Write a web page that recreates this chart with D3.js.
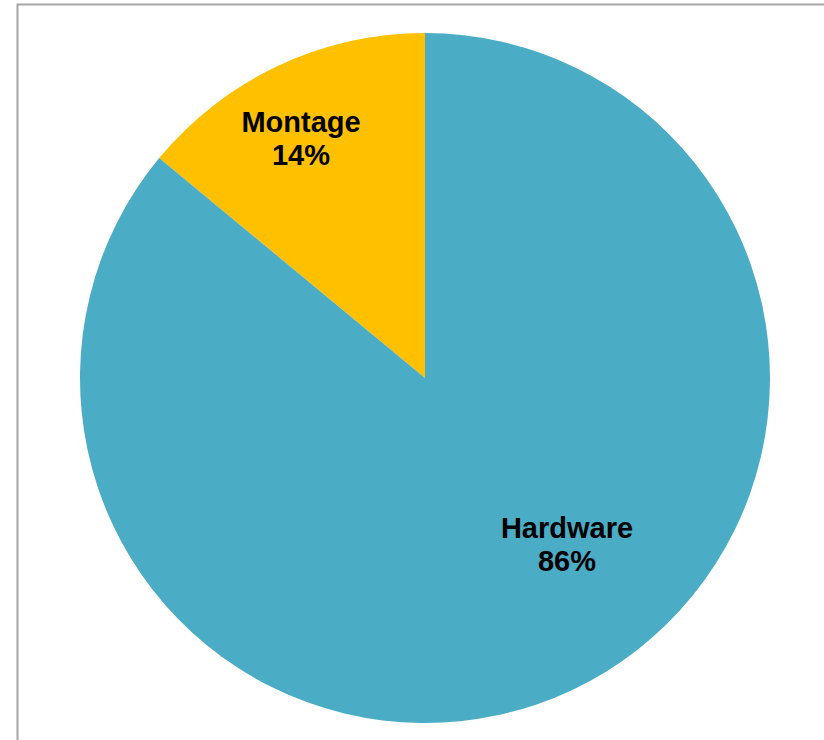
<!DOCTYPE html>
<html>
<head>
<meta charset="utf-8">
<script src="https://cdn.jsdelivr.net/npm/d3@7"></script>
<style>
  html, body { margin: 0; padding: 0; background: #fff; }
  svg { display: block; }
</style>
</head>
<body>
<svg id="chart" width="824" height="740"></svg>
<script>
// data
var categories = ["Montage", "Hardware"];
var shares = [14, 86];
var sliceColors = ["#FFC000", "#4BACC6"];

var svg = d3.select("#chart");
var width = 824, height = 740;

// frame of the chart area
svg.append("rect")
    .attr("x", 17.5).attr("y", 4.5)
    .attr("width", 900).attr("height", 900)
    .attr("fill", "#fff")
    .attr("stroke", "#a6a6a6")
    .attr("stroke-width", 2);

var cx = 425, cy = 378, radius = 345;

// Montage goes counter-clockwise from 12 o'clock, so start the pie at -14%
var pie = d3.pie()
    .sort(null)
    .value(function(d) { return d; })
    .startAngle(-2 * Math.PI * shares[0] / 100)
    .endAngle(2 * Math.PI - 2 * Math.PI * shares[0] / 100);

var arc = d3.arc().innerRadius(0).outerRadius(radius);

var g = svg.append("g").attr("transform", "translate(" + cx + "," + cy + ")");

var arcs = pie(shares);

g.selectAll("path")
    .data(arcs)
    .enter().append("path")
    .attr("d", arc)
    .attr("fill", function(d, i) { return sliceColors[i]; });

// label spots (picked to match the original layout)
var labelPos = [[-124, -229], [142, 177]];

var labels = g.selectAll("text.lbl")
    .data(arcs)
    .enter().append("text")
    .attr("class", "lbl")
    .attr("text-anchor", "middle")
    .attr("font-family", "Liberation Sans, Arial, sans-serif")
    .attr("font-weight", "bold")
    .attr("font-size", 29)
    .attr("fill", "#000")
    .attr("transform", function(d, i) { return "translate(" + labelPos[i][0] + "," + labelPos[i][1] + ")"; });

labels.append("tspan")
    .attr("x", 0).attr("y", -17)
    .text(function(d, i) { return categories[i]; });
labels.append("tspan")
    .attr("x", 0).attr("y", 16)
    .text(function(d, i) { return shares[i] + "%"; });
</script>
</body>
</html>
